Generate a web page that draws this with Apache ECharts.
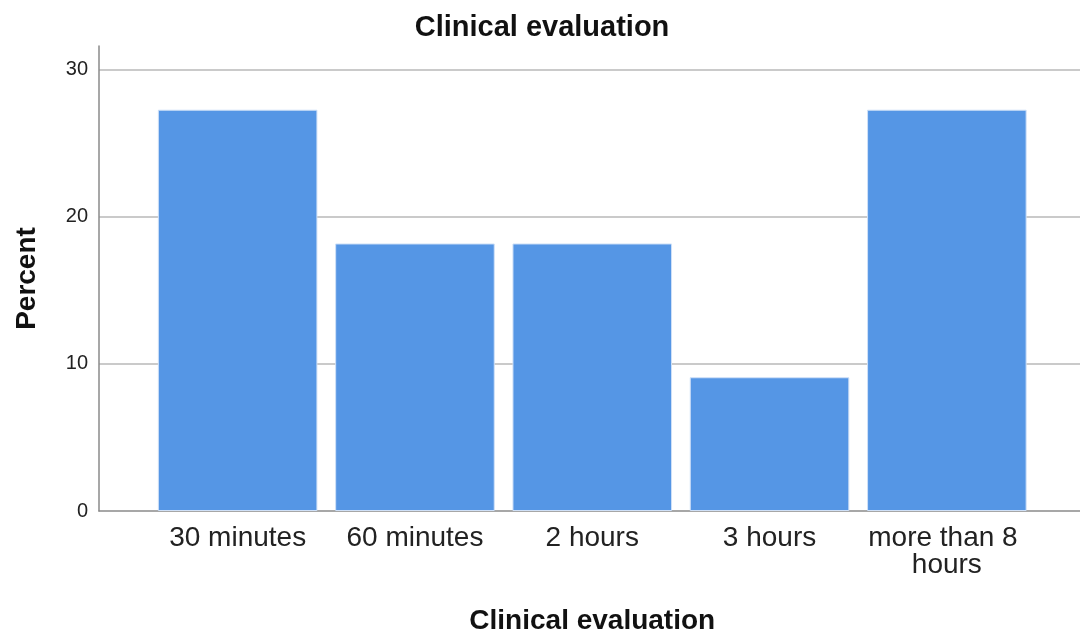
<!DOCTYPE html>
<html>
<head>
<meta charset="utf-8">
<script src="https://cdn.jsdelivr.net/npm/echarts@6/dist/echarts.min.js"></script>
<style>
html,body{margin:0;padding:0;background:#fff;}
#chart{width:1080px;height:633px;}
</style>
</head>
<body>
<div id="chart"></div>
<script>
var categories = ['30 minutes', '60 minutes', '2 hours', '3 hours', 'more than 8 hours'];
var percentValues = [27.27, 18.18, 18.18, 9.09, 27.27];
var chartTitle = 'Clinical evaluation';
var xAxisTitle = 'Clinical evaluation';
var yAxisTitle = 'Percent';
var yTicks = [0, 10, 20, 30];

var FONT = '"Liberation Sans", Arial, sans-serif';
var Y_MAX = 31.6;

var chart = echarts.init(document.getElementById('chart'), null, {renderer: 'canvas'});
chart.setOption({
  animation: false,
  backgroundColor: '#ffffff',
  title: {
    text: chartTitle,
    left: 537, top: 8, textAlign: 'center',
    textStyle: {fontFamily: FONT, fontSize: 29, fontWeight: 'bold', color: '#111'}
  },
  grid: [
    {left: 99, right: 0, top: 46, bottom: 122, outerBoundsMode: 'none', containLabel: false},
    {left: 149, right: 44.5, top: 46, bottom: 122, outerBoundsMode: 'none', containLabel: false}
  ],
  xAxis: [
    {
      gridIndex: 0, type: 'category', data: [''],
      axisLine: {show: true, lineStyle: {color: '#8a8a8a', width: 1.5}},
      axisTick: {show: false}, axisLabel: {show: false}, splitLine: {show: false}
    },
    {
      gridIndex: 1, type: 'category', data: categories,
      axisLine: {show: false}, axisTick: {show: false},
      axisLabel: {
        fontFamily: FONT, fontSize: 28, color: '#222', margin: 14,
        lineHeight: 27, width: 172, overflow: 'break', interval: 0
      },
      name: xAxisTitle, nameLocation: 'middle', nameGap: 96,
      nameTextStyle: {fontFamily: FONT, fontSize: 28, fontWeight: 'bold', color: '#111'}
    }
  ],
  yAxis: [
    {
      gridIndex: 0, type: 'value', min: 0, max: Y_MAX, interval: 10,
      axisLine: {show: true, lineStyle: {color: '#8a8a8a', width: 1.5}},
      axisTick: {show: false},
      axisLabel: {
        fontFamily: FONT, fontSize: 20, color: '#222', margin: 11, showMaxLabel: false,
        formatter: function (v) { return yTicks.indexOf(v) >= 0 ? String(v) : ''; }
      },
      splitLine: {show: true, showMinLine: false, showMaxLine: false, lineStyle: {color: '#b8b8b8', width: 1.5}},
      name: yAxisTitle, nameLocation: 'middle', nameGap: 58, nameRotate: 90,
      nameTextStyle: {fontFamily: FONT, fontSize: 28, fontWeight: 'bold', color: '#111'}
    },
    {
      gridIndex: 1, type: 'value', min: 0, max: Y_MAX, show: false,
      splitLine: {show: false}
    }
  ],
  series: [{
    type: 'bar', xAxisIndex: 1, yAxisIndex: 1,
    data: percentValues, barWidth: '90%',
    itemStyle: {color: '#5596e5', borderColor: '#cfe0f7', borderWidth: 1}
  }]
});
</script>
</body>
</html>
